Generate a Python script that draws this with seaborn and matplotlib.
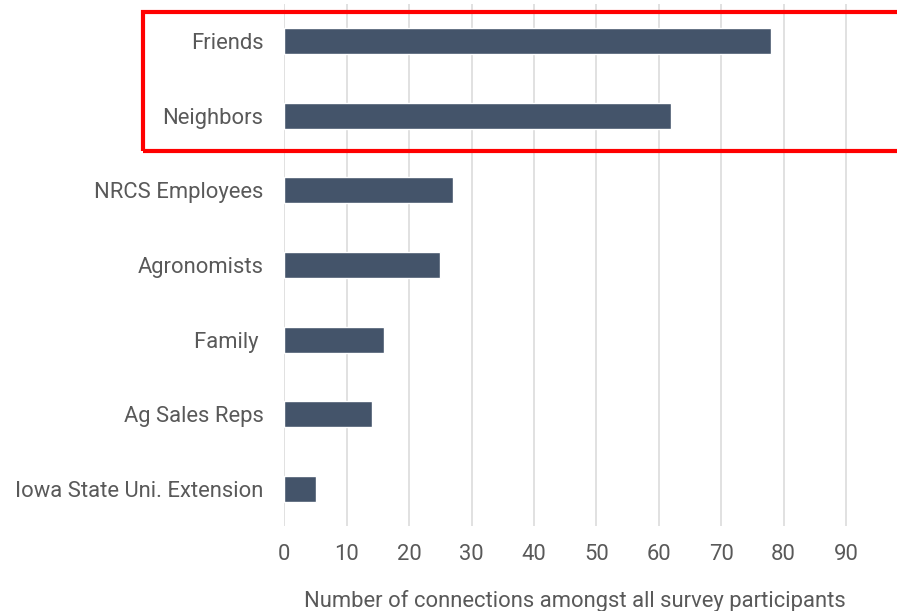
import matplotlib
matplotlib.use("Agg")
import matplotlib.pyplot as plt
from matplotlib.patches import Rectangle
import seaborn as sns
import pandas as pd

categories = ["Friends", "Neighbors", "NRCS Employees", "Agronomists",
              "Family ", "Ag Sales Reps", "Iowa State Uni. Extension"]
connections = [78, 62, 27, 25, 16, 14, 5]
x_ticks = [0, 10, 20, 30, 40, 50, 60, 70, 80, 90]

df = pd.DataFrame({"source": categories, "count": connections})

sns.set_theme(style="white")
plt.rcParams["font.family"] = ["Roboto", "DejaVu Sans"]

fig = plt.figure(figsize=(8.97, 6.11), dpi=100)
ax = fig.add_axes([284.4 / 897, 84.7 / 611, 624 / 897, 522.6 / 611])

sns.barplot(data=df, x="count", y="source", color="#44546A", width=0.35,
            saturation=1, ax=ax, zorder=3)

ax.set_xlim(0, 100)
ax.set_xticks(x_ticks)
ax.set_xticklabels([str(t) for t in x_ticks])
ax.grid(axis="x", color="#D9D9D9", linewidth=1.1, zorder=0)
ax.grid(axis="y", visible=False)
for s in ax.spines.values():
    s.set_visible(False)

ax.tick_params(axis="x", length=0, pad=13, labelsize=15.8, labelcolor="#595959")
ax.tick_params(axis="y", length=0, pad=15, labelsize=15.8, labelcolor="#595959")
ax.set_ylabel("")
ax.set_xlabel("Number of connections amongst all survey participants",
              fontsize=15.8, color="#595959")
ax.xaxis.set_label_coords(0.4657, -0.121)

# highlight box around the two leading sources
fig.patches.append(Rectangle((143 / 897, (611 - 151) / 611), 770 / 897, 139 / 611,
                             transform=fig.transFigure, fill=False,
                             edgecolor="#FF0000", linewidth=3, clip_on=False))

fig.savefig("out.png", dpi=100)
